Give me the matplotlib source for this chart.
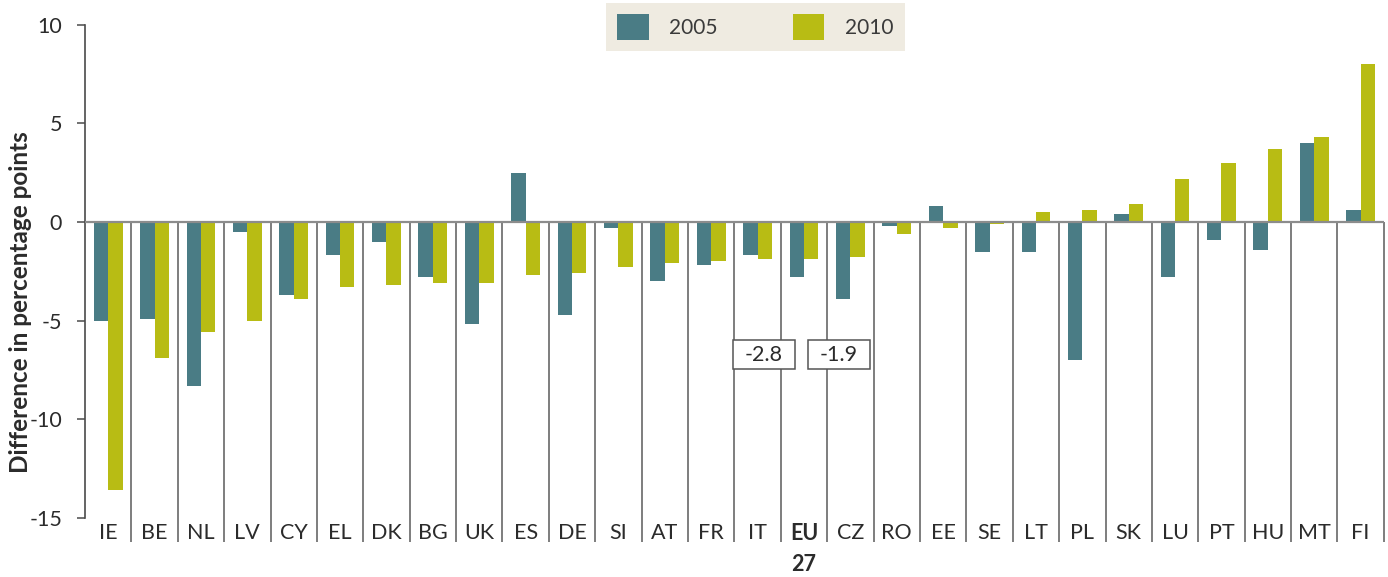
import numpy as np
import matplotlib
matplotlib.use("Agg")
import matplotlib.pyplot as plt
from matplotlib.patches import Rectangle

plt.rcParams['font.family'] = ['Lato', 'DejaVu Sans']
plt.rcParams['axes.unicode_minus'] = False

countries = ['IE', 'BE', 'NL', 'LV', 'CY', 'EL', 'DK', 'BG', 'UK', 'ES', 'DE', 'SI',
             'AT', 'FR', 'IT', 'EU\n27', 'CZ', 'RO', 'EE', 'SE', 'LT', 'PL', 'SK',
             'LU', 'PT', 'HU', 'MT', 'FI']
vals_2005 = [-5.0, -4.9, -8.3, -0.5, -3.7, -1.7, -1.0, -2.8, -5.2, 2.5, -4.7, -0.3,
             -3.0, -2.2, -1.7, -2.8, -3.9, -0.2, 0.8, -1.5, -1.5, -7.0, 0.4,
             -2.8, -0.9, -1.4, 4.0, 0.6]
vals_2010 = [-13.6, -6.9, -5.6, -5.0, -3.9, -3.3, -3.2, -3.1, -3.1, -2.7, -2.6, -2.3,
             -2.1, -2.0, -1.9, -1.9, -1.8, -0.6, -0.3, -0.1, 0.5, 0.6, 0.9,
             2.2, 3.0, 3.7, 4.3, 8.0]
series_labels = ['2005', '2010']
eu_index = countries.index('EU\n27')

TEAL = '#4a7c85'
LIME = '#b8bc14'
TEXT = '#2b2b2b'

fig = plt.figure(figsize=(13.88, 5.77), dpi=100)
ax = fig.add_axes([0.0612, 0.1031, 0.9358, 0.8536])

n = len(countries)
x = np.arange(n) + 0.5
w = 0.31
ax.bar(x - w / 2, vals_2005, width=w, color=TEAL, label=series_labels[0], zorder=2)
ax.bar(x + w / 2, vals_2010, width=w, color=LIME, label=series_labels[1], zorder=2)

ax.set_xlim(0, n)
ax.set_ylim(-15, 10)

# zero line and category separators hanging below the axis
ax.axhline(0, color='#8c8c8c', lw=1.6, zorder=3)
ax.vlines(np.arange(1, n + 1), 0, -16.25, colors='#5a5a5a', lw=1.1,
          clip_on=False, zorder=1)

for s in ['top', 'right', 'bottom']:
    ax.spines[s].set_visible(False)
ax.spines['left'].set_color('#4a4a4a')
ax.spines['left'].set_linewidth(1.2)

ax.set_yticks([10, 5, 0, -5, -10, -15])
ax.tick_params(axis='y', direction='out', length=5.5, width=1.1, color='#4a4a4a',
               labelsize=15.5, labelcolor=TEXT, pad=11)
ax.set_xticks(x)
ax.set_xticklabels(countries, fontsize=15.5, color=TEXT, linespacing=1.6)
ax.tick_params(axis='x', length=0, pad=4)
ax.get_xticklabels()[eu_index].set_fontweight('bold')

fig.text(21 / 1388, 1 - 302 / 577, 'Difference in percentage points',
         rotation=90, ha='center', va='center', fontsize=17.5, fontweight='bold',
         color=TEXT)

# value boxes for the EU-27 bars
box_w, box_h, box_y = 1.34, 1.47, -6.75
for val, cx in [(vals_2005[eu_index], eu_index - 0.37),
                (vals_2010[eu_index], eu_index + 1.25)]:
    ax.add_patch(Rectangle((cx - box_w / 2, box_y - box_h / 2), box_w, box_h,
                           facecolor='white', edgecolor='#555555', lw=1.1,
                           zorder=4))
    ax.text(cx, box_y, f'{val:.1f}', ha='center', va='center', fontsize=15.5,
            color=TEXT, zorder=5)

leg = ax.legend(loc='upper left', bbox_to_anchor=(606 / 1388, 1 - 3 / 577),
                bbox_transform=fig.transFigure, ncol=2, frameon=True,
                fancybox=False, fontsize=15, handlelength=1.49,
                handleheight=1.49, handletextpad=1.0, columnspacing=3.6,
                borderpad=0.55, borderaxespad=0)
leg.get_frame().set_facecolor('#efebe1')
leg.get_frame().set_edgecolor('none')
leg.get_frame().set_alpha(1)
for t in leg.get_texts():
    t.set_color('#3a3a3a')

fig.savefig('out.png', dpi=100)
